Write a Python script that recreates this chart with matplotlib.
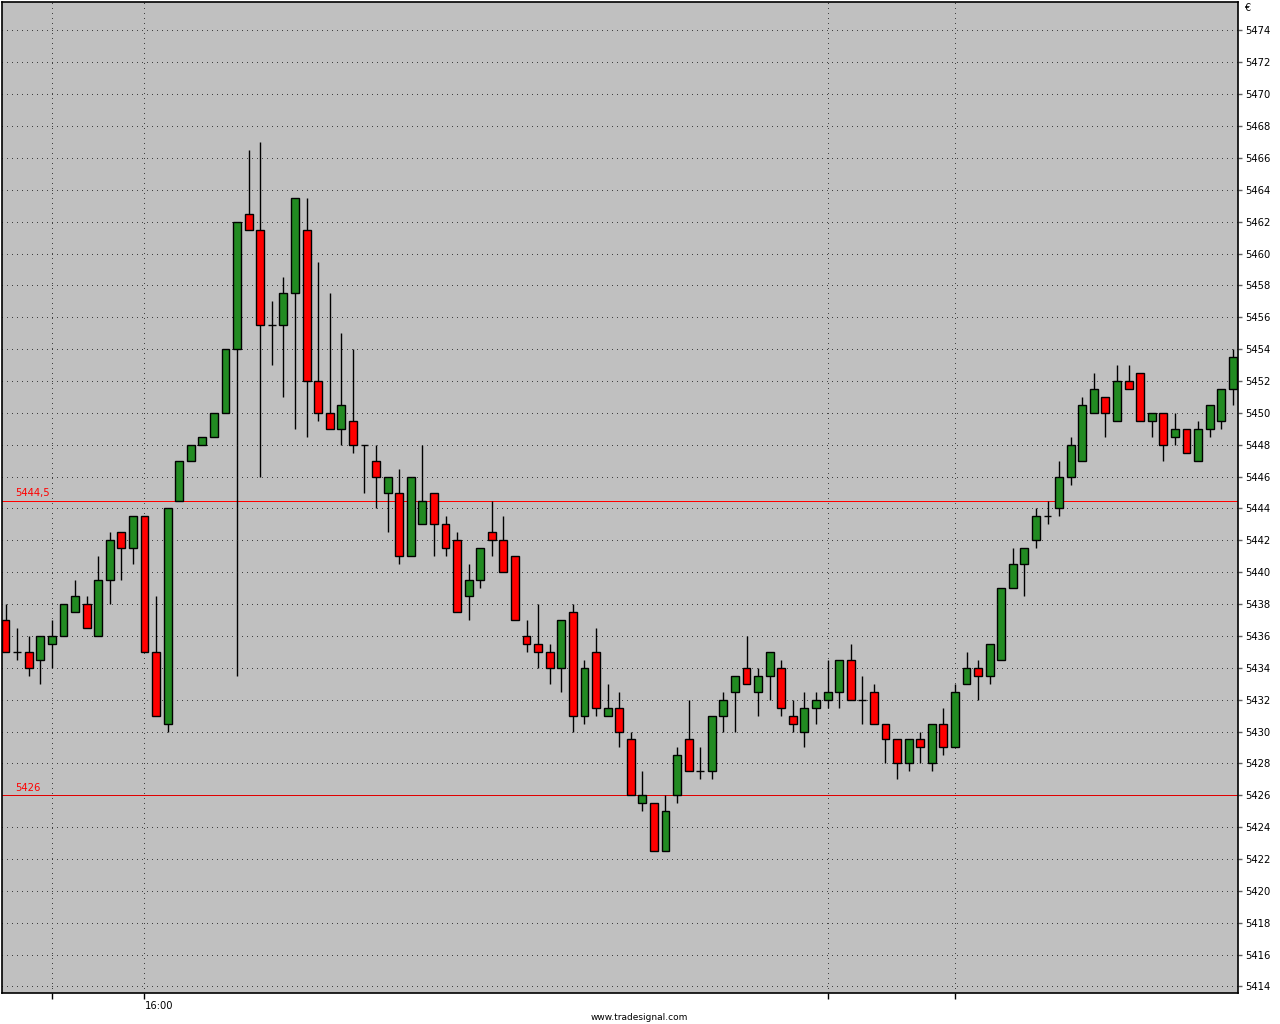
import numpy as np
import matplotlib
matplotlib.use("Agg")
from matplotlib import pyplot as plt

# OHLC data, one bar per candle
opens = [5437, 5435, 5435, 5434.5, 5435.5, 5436, 5437.5, 5438, 5436, 5439.5,
         5442.5, 5441.5, 5443.5, 5435, 5430.5, 5444.5, 5447, 5448, 5448.5, 5450,
         5454, 5462.5, 5461.5, 5455.5, 5455.5, 5457.5, 5461.5, 5452, 5450, 5449,
         5449.5, 5448, 5447, 5445, 5445, 5441, 5443, 5445, 5443, 5442,
         5438.5, 5439.5, 5442.5, 5442, 5441, 5436, 5435.5, 5435, 5434, 5437.5,
         5431, 5435, 5431, 5431.5, 5429.5, 5425.5, 5425.5, 5422.5, 5426, 5429.5,
         5427.5, 5427.5, 5431, 5432.5, 5434, 5432.5, 5433.5, 5434, 5431, 5430,
         5431.5, 5432, 5432.5, 5434.5, 5432, 5432.5, 5430.5, 5429.5, 5428, 5429.5,
         5428, 5430.5, 5429, 5433, 5434, 5433.5, 5434.5, 5439, 5440.5, 5442,
         5443.5, 5444, 5446, 5447, 5450, 5451, 5449.5, 5452, 5452.5, 5449.5,
         5450, 5448.5, 5449, 5447, 5449, 5449.5, 5451.5]
highs = [5438, 5436.5, 5436, 5436, 5437, 5438, 5439.5, 5438.5, 5441, 5442.5,
         5442.5, 5443.5, 5443.5, 5438.5, 5444, 5447, 5448, 5448.5, 5450, 5454,
         5462, 5466.5, 5467, 5457, 5458.5, 5463.5, 5463.5, 5459.5, 5457.5, 5455,
         5454, 5448, 5448, 5446, 5446.5, 5446, 5448, 5445, 5443.5, 5442.5,
         5440.5, 5441.5, 5444.5, 5443.5, 5441, 5437, 5438, 5435.5, 5437, 5438,
         5434.5, 5436.5, 5433, 5432.5, 5430, 5427.5, 5425.5, 5426, 5429, 5432,
         5429, 5431, 5432.5, 5433.5, 5436, 5434, 5435, 5434.5, 5432, 5432.5,
         5432.5, 5434.5, 5434.5, 5435.5, 5433.5, 5433, 5430.5, 5429.5, 5429.5, 5430,
         5430.5, 5431.5, 5433, 5435, 5434.5, 5435.5, 5439, 5441.5, 5441.5, 5444,
         5444.5, 5447, 5448.5, 5451, 5452.5, 5451, 5453, 5453, 5452.5, 5450,
         5450, 5450, 5449, 5449.5, 5450.5, 5451.5, 5454]
lows = [5435, 5434.5, 5433.5, 5433, 5434, 5436, 5437.5, 5436.5, 5436, 5438,
        5439.5, 5440.5, 5435, 5431, 5430, 5444.5, 5447, 5448, 5448.5, 5450,
        5433.5, 5461.5, 5446, 5453, 5451, 5449, 5448.5, 5449.5, 5449, 5448,
        5447.5, 5445, 5444, 5442.5, 5440.5, 5441, 5443, 5441, 5441, 5437.5,
        5437, 5439, 5441, 5440, 5437, 5435, 5434, 5433, 5432.5, 5430,
        5430.5, 5431, 5431, 5429, 5426, 5425, 5422.5, 5422.5, 5425.5, 5427.5,
        5427, 5427, 5430, 5430, 5433, 5431, 5432, 5431, 5430, 5429,
        5430.5, 5431.5, 5431.5, 5432, 5430.5, 5430.5, 5428, 5427, 5427.5, 5428,
        5427.5, 5428.5, 5429, 5433, 5432, 5433, 5434.5, 5439, 5438.5, 5441.5,
        5443, 5443.5, 5445.5, 5447, 5450, 5448.5, 5449.5, 5451.5, 5449.5, 5448.5,
        5447, 5448, 5447.5, 5447, 5448.5, 5449, 5450.5]
closes = [5435, 5435, 5434, 5436, 5436, 5438, 5438.5, 5436.5, 5439.5, 5442,
          5441.5, 5443.5, 5435, 5431, 5444, 5447, 5448, 5448.5, 5450, 5454,
          5462, 5461.5, 5455.5, 5455.5, 5457.5, 5463.5, 5452, 5450, 5449, 5450.5,
          5448, 5448, 5446, 5446, 5441, 5446, 5444.5, 5443, 5441.5, 5437.5,
          5439.5, 5441.5, 5442, 5440, 5437, 5435.5, 5435, 5434, 5437, 5431,
          5434, 5431.5, 5431.5, 5430, 5426, 5426, 5422.5, 5425, 5428.5, 5427.5,
          5427.5, 5431, 5432, 5433.5, 5433, 5433.5, 5435, 5431.5, 5430.5, 5431.5,
          5432, 5432.5, 5434.5, 5432, 5432, 5430.5, 5429.5, 5428, 5429.5, 5429,
          5430.5, 5429, 5432.5, 5434, 5433.5, 5435.5, 5439, 5440.5, 5441.5, 5443.5,
          5443.5, 5446, 5448, 5450.5, 5451.5, 5450, 5452, 5451.5, 5449.5, 5450,
          5448, 5449, 5447.5, 5449, 5450.5, 5451.5, 5453.5]

levels = [5444.5, 5426]
level_labels = ["5444,5", "5426"]
time_ticks = [4, 12, 71, 82]
time_labels = ["", "16:00", "", ""]
yticks = list(range(5414, 5476, 2))

o = np.array(opens); h = np.array(highs); l = np.array(lows); c = np.array(closes)
x = np.arange(len(o))

px = 0.72  # one pixel at 100 dpi, in points

fig = plt.figure(figsize=(12.8, 10.24), dpi=100)
fig.patch.set_facecolor("white")
ax = fig.add_axes([1.5/1280, 31.5/1024, 1236.5/1280, 991/1024])
ax.set_facecolor("#c0c0c0")

# grid: 1px dots every 6px, no antialiasing
ax.set_xticks(time_ticks)
ax.set_yticks(yticks)
ax.grid(True, color="#404040", linestyle=(0, (1, 5)), linewidth=px,
        antialiased=False)
ax.set_axisbelow(True)

# level lines
ax.axhline(levels[0], color="#ff0000", linewidth=px, zorder=1, antialiased=False)
ax.axhline(levels[1], color="#e00000", linewidth=px, zorder=1, antialiased=False)
for lv, lab in zip(levels, level_labels):
    ax.annotate(lab, xy=(0.011, lv), xycoords=("axes fraction", "data"),
                xytext=(0, 1.5), textcoords="offset points",
                color="red", fontsize=7.2, va="bottom", ha="left", zorder=5)

# wicks
ax.vlines(x, l, h, color="black", linewidth=1.0, zorder=2)

# bodies
up = c > o
dn = c < o
dj = c == o
w = 0.68
ax.bar(x[up], (c - o)[up], bottom=o[up], width=w, color="#228b22",
       edgecolor="black", linewidth=1.0, zorder=3)
ax.bar(x[dn], (o - c)[dn], bottom=c[dn], width=w, color="#ff0000",
       edgecolor="black", linewidth=1.0, zorder=3)
ax.hlines(c[dj], x[dj] - w/2, x[dj] + w/2, color="black", linewidth=1.0, zorder=3)

ax.set_xlim(-0.35, 106.45)
ax.set_ylim(5413.62, 5475.82)

# axes styling
for s in ax.spines.values():
    s.set_color("black")
    s.set_linewidth(1.2)
ax.yaxis.tick_right()
ax.tick_params(axis="y", direction="out", length=3, width=1, color="#606060",
               labelsize=7.2, pad=2, labelcolor="black")
ax.set_xticklabels(time_labels)
ax.tick_params(axis="x", direction="out", length=4, width=1, color="black",
               labelsize=7.2, pad=2)
for t in ax.get_xticklabels():
    t.set_horizontalalignment("left")

fig.text(1244/1280, 1 - 8/1024, "€", fontsize=7, ha="left", va="center")
fig.text(639/1280, 1 - 1017/1024, "www.tradesignal.com", fontsize=6.5,
         ha="center", va="center")

fig.savefig("out.png", dpi=100, facecolor="white")
